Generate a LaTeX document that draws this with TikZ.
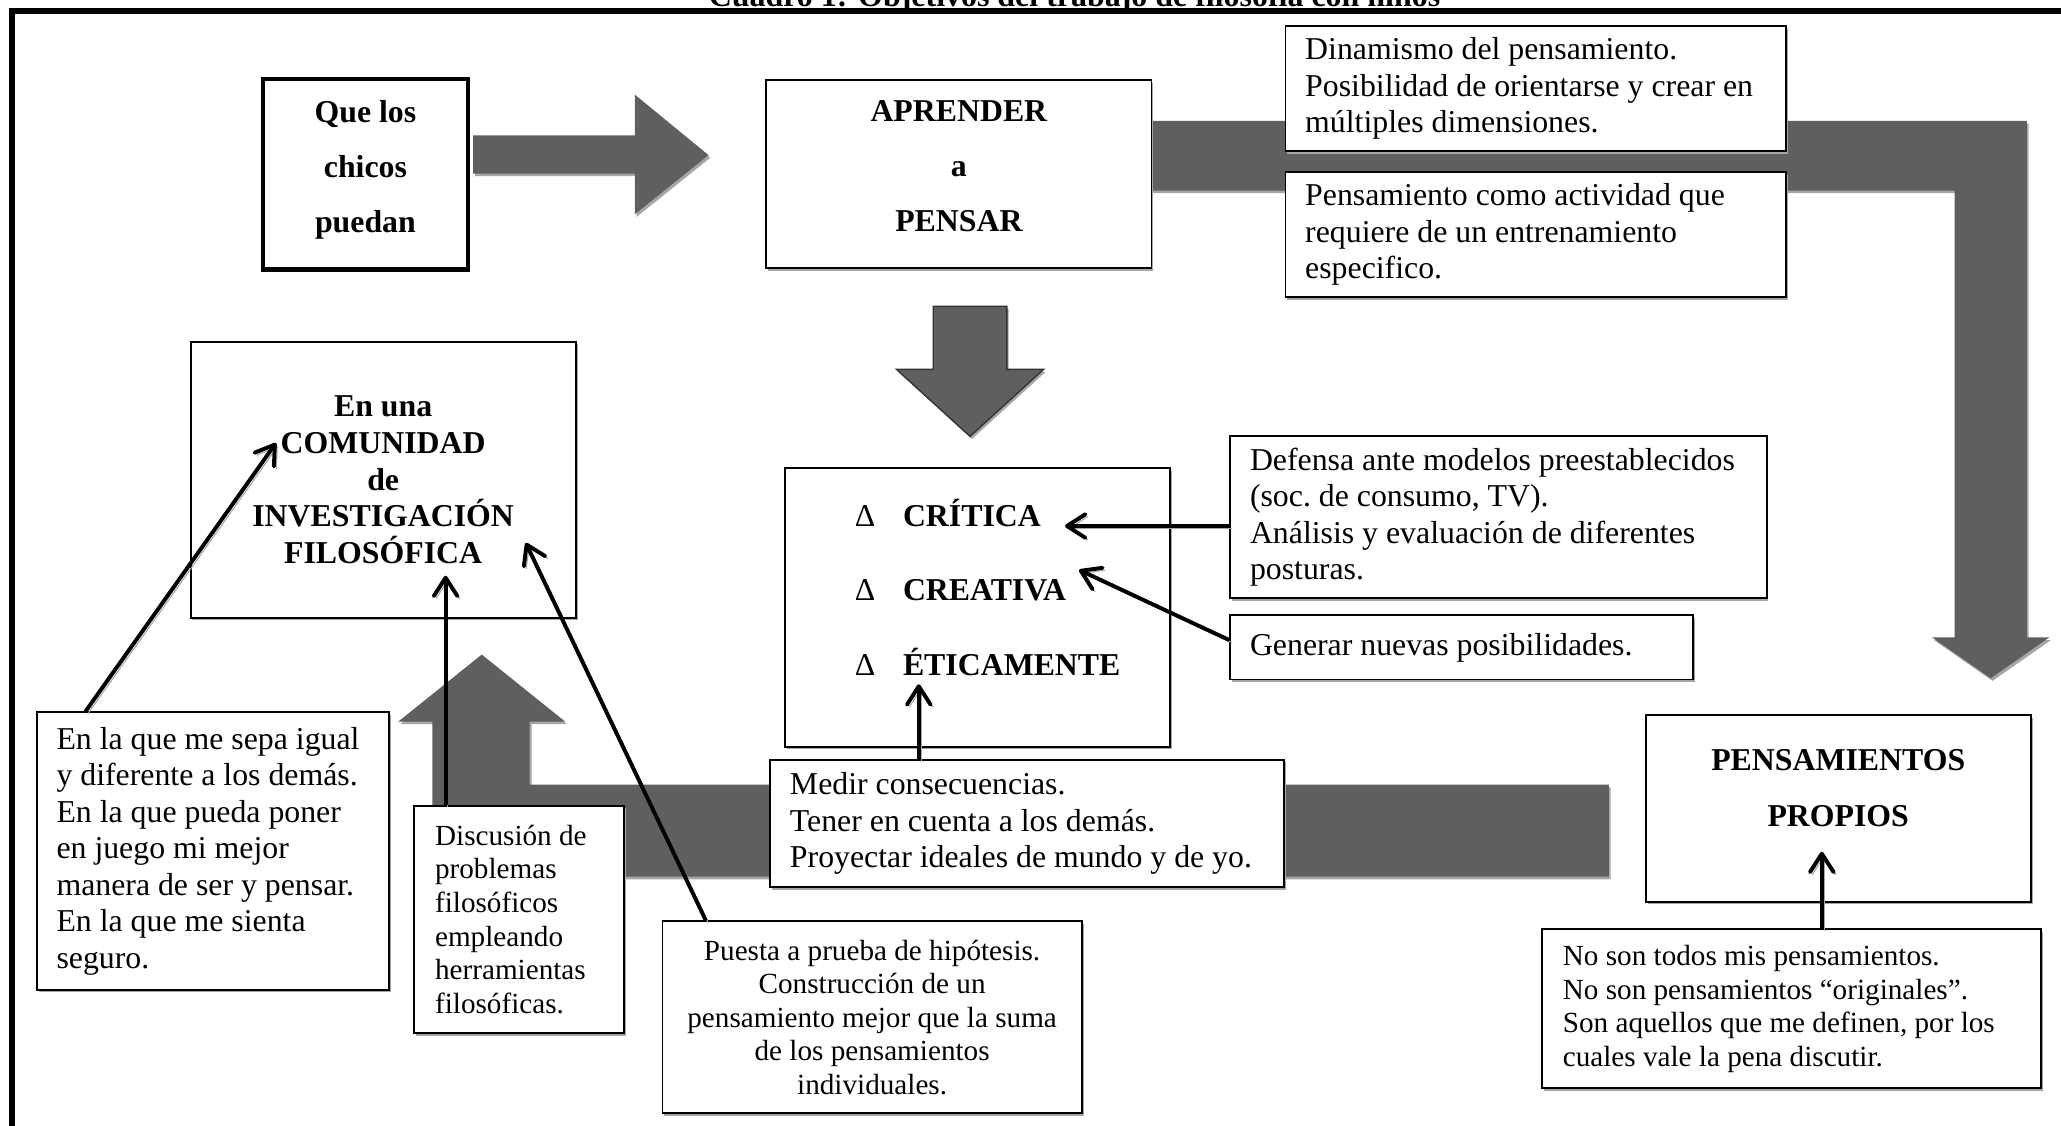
\documentclass[tikz,border=0pt]{standalone}
\usepackage{fontspec}
\setmainfont{Liberation Serif}
\usetikzlibrary{arrows.meta,shadows}
\definecolor{bandgray}{RGB}{95,95,95}
\newcommand{\normtxt}{\fontsize{12.1pt}{13.9pt}\selectfont\frenchspacing}
\newcommand{\smalltxt}{\fontsize{11.1pt}{12.8pt}\selectfont\frenchspacing}

\begin{document}
\begin{tikzpicture}[x=0.5pt,y=-0.5pt,
    shd/.style={drop shadow={shadow xshift=0.7pt,shadow yshift=-1pt,fill=black!35,opacity=1}},
    box/.style={draw,line width=0.7pt,fill=white,shd,inner ysep=0pt},
    txtbox/.style={box,align=flush left,inner xsep=7.5pt,font=\normtxt},
    smallbox/.style={box,inner xsep=8pt,font=\smalltxt},
    titlebox/.style={box,align=flush center,font=\normtxt\bfseries},
    band/.style={fill=bandgray,shd},
    itemnode/.style={anchor=west,inner sep=0pt,text height=8.2pt,text depth=0pt,font=\normtxt},
    arr/.style={line width=1.5pt,-{Straight Barb[length=7pt,width=9pt,round]},
      preaction={draw=black!35,transform canvas={shift={(0.9pt,-0.9pt)}}}}]
  \useasboundingbox (0,0) rectangle (1568,856);

  \node[font=\fontsize{12.15pt}{14pt}\selectfont\bfseries,anchor=base,inner sep=0pt] (title) at (817.5,4.6)
    {Cuadro 1: Objetivos del trabajo de filosofía con niños};
  \draw[line width=2.3pt,preaction={draw=black!35,transform canvas={shift={(0.7pt,-0.7pt)}}}]
    (9,862) -- (9,8.3) -- (1575,8.3);

  % flechas grises
  \path[band] (360,103) -- (483,103) -- (483,72) -- (539,118) -- (483,163) -- (483,132) -- (360,132) -- cycle;
  \path[band,draw=black!80,line width=0.5pt] (710,233) -- (766,233) -- (766,281) -- (794,281) -- (738,332)
    -- (682,281) -- (710,281) -- cycle;
  \path[band] (870,92) -- (1542,92) -- (1542,485) -- (1559,485) -- (1514.5,516) -- (1470,485)
    -- (1487,485) -- (1487,145) -- (870,145) -- cycle;
  \path[band] (1224,597) -- (1224,667) -- (329,667) -- (329,549) -- (303,549) -- (366.5,498)
    -- (430,549) -- (403,549) -- (403,597) -- cycle;

  \node[draw,line width=1.6pt,fill=white,align=flush center,font=\normtxt\bfseries,
    minimum width=78pt,minimum height=72.5pt,inner sep=0pt] (chicos) at (278,132.5)
    {Que los\\[7pt]chicos\\[7pt]puedan\\[-7.9pt]\mbox{}};
  \node[titlebox,minimum width=146.5pt,minimum height=71.5pt] (aprender) at (729.5,132.5)
    {APRENDER\\[7pt]a\\[7pt]PENSAR\\[-7.9pt]\mbox{}};
  \node[txtbox,minimum width=190.5pt,minimum height=47.5pt,text width=175.5pt] (dinam) at (1168.5,67.5)
    {Dinamismo del pensamiento.\\Posibilidad de orientarse y crear en\\múltiples dimensiones.};
  \node[txtbox,minimum width=190.5pt,minimum height=47.5pt,text width=175.5pt] (entren) at (1168.5,178.5)
    {Pensamiento como actividad que\\requiere de un entrenamiento\\especifico.};
  \node[titlebox,minimum width=146.5pt,minimum height=105pt] (comunidad) at (291.5,365)
    {En una\\COMUNIDAD\\de\\INVESTIGACIÓN\\FILOSÓFICA};

  \node[box,minimum width=146.5pt,minimum height=106pt] (critbox) at (743.5,462) {};
  \node[itemnode] (crit) at (650,392) {\makebox[18.3pt][l]{Δ}\textbf{CRÍTICA}};
  \node[itemnode] (creat) at (650,449) {\makebox[18.3pt][l]{Δ}\textbf{CREATIVA}};
  \node[itemnode] (etic) at (650,506) {\makebox[18.3pt][l]{Δ}\textbf{ÉTICAMENTE}};

  \node[txtbox,minimum width=204pt,minimum height=61.5pt,text width=189pt] (defensa) at (1140,393.5)
    {Defensa ante modelos preestablecidos\\(soc. de consumo, TV).\\Análisis y evaluación de diferentes\\posturas.};
  \node[txtbox,minimum width=176pt,minimum height=24.5pt,text width=161pt] (generar) at (1112,492.5)
    {Generar nuevas posibilidades.};
  \node[txtbox,minimum width=195.5pt,minimum height=48.5pt,text width=180.5pt] (medir) at (781.5,626.5)
    {Medir consecuencias.\\Tener en cuenta a los demás.\\Proyectar ideales de mundo y de yo.};
  \node[titlebox,minimum width=146.5pt,minimum height=71pt] (pensprop) at (1398.5,615)
    {PENSAMIENTOS\\[7.6pt]PROPIOS\\[1.6pt]\mbox{}};
  \node[smallbox,align=flush left,minimum width=190pt,minimum height=60.5pt,text width=174pt] (nosontodos) at (1363,767.5)
    {No son todos mis pensamientos.\\No son pensamientos “originales”.\\Son aquellos que me definen, por los\\cuales vale la pena discutir.};
  \node[txtbox,minimum width=134pt,minimum height=105.5pt,text width=119pt] (sepa) at (162,647.5)
    {En la que me sepa igual\\y diferente a los demás.\\En la que pueda poner\\en juego mi mejor\\manera de ser y pensar.\\En la que me sienta\\seguro.};
  \node[smallbox,align=flush left,minimum width=80pt,minimum height=86.5pt,text width=64pt] (discusion) at (395,699.5)
    {Discusión de\\problemas\\filosóficos\\empleando\\herramientas\\filosóficas.};
  \node[smallbox,align=flush center,minimum width=159.5pt,minimum height=73pt,text width=143.5pt] (puesta) at (663.5,774)
    {Puesta a prueba de hipótesis.\\Construcción de un\\pensamiento mejor que la suma\\de los pensamientos\\individuales.};

  % flechas
  \coordinate (tipd) at ([shift={(23.75pt,-36.5pt)}]comunidad.center);
  \coordinate (tipp) at ([shift={(-6.25pt,-16.5pt)}]pensprop.center);
  \draw[arr] (defensa.west |- crit.base) -- ([xshift=9pt]crit.base east);
  \draw[arr] ([yshift=2.75pt]generar.west) -- ([shift={(4.7pt,3.4pt)}]creat.north east);
  \draw[arr] ([xshift=24.5pt]etic.west |- medir.north) -- ([xshift=24.5pt,yshift=-3pt]etic.south west);
  \draw[arr] ([xshift=-48.5pt]sepa.north) -- ([shift={(-40.75pt,14pt)}]comunidad.center);
  \draw[arr] (discusion.north -| tipd) -- (tipd);
  \draw[arr] ([xshift=-63.25pt]puesta.north) -- ([shift={(54.25pt,-24pt)}]comunidad.center);
  \draw[arr] (nosontodos.north -| tipp) -- (tipp);
\end{tikzpicture}
\end{document}
